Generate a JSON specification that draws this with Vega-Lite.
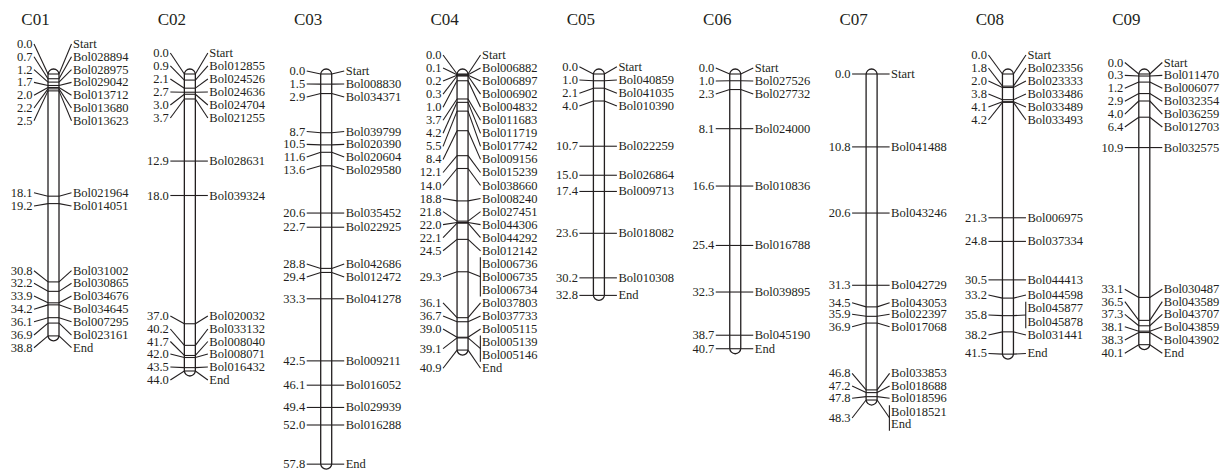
{
  "$schema": "https://vega.github.io/schema/vega-lite/v6.json",
  "width": 1226,
  "height": 474,
  "autosize": {"type": "none"},
  "padding": 0,
  "background": "white",
  "config": {"view": {"stroke": null}},
  "datasets": {
    "chroms": [
      {"c": 0, "t": "C01", "s": 0, "len": 38.8},
      {"c": 1, "t": "C02", "s": 0, "len": 44.0},
      {"c": 2, "t": "C03", "s": 0, "len": 57.8},
      {"c": 3, "t": "C04", "s": 0, "len": 40.9},
      {"c": 4, "t": "C05", "s": 0, "len": 32.8},
      {"c": 5, "t": "C06", "s": 0, "len": 40.7},
      {"c": 6, "t": "C07", "s": 0, "len": 48.3},
      {"c": 7, "t": "C08", "s": 0, "len": 41.5},
      {"c": 8, "t": "C09", "s": 0, "len": 40.1}
    ],
    "markers": [
      {"c": 0, "p": 0.0, "ly": -4.44, "ny": -4.44, "name": "Start"},
      {"c": 0, "p": 0.7, "ly": -2.55, "ny": -2.55, "name": "Bol028894"},
      {"c": 0, "p": 1.2, "ly": -0.65, "ny": -0.65, "name": "Bol028975"},
      {"c": 0, "p": 1.7, "ly": 1.24, "ny": 1.24, "name": "Bol029042"},
      {"c": 0, "p": 2.0, "ly": 3.14, "ny": 3.14, "name": "Bol013712"},
      {"c": 0, "p": 2.2, "ly": 5.04, "ny": 5.04, "name": "Bol013680"},
      {"c": 0, "p": 2.5, "ly": 6.93, "ny": 6.93, "name": "Bol013623"},
      {"c": 0, "p": 18.1, "ly": 17.59, "ny": 17.59, "name": "Bol021964"},
      {"c": 0, "p": 19.2, "ly": 19.56, "ny": 19.56, "name": "Bol014051"},
      {"c": 0, "p": 30.8, "ly": 29.14, "ny": 29.14, "name": "Bol031002"},
      {"c": 0, "p": 32.2, "ly": 31.01, "ny": 31.01, "name": "Bol030865"},
      {"c": 0, "p": 33.9, "ly": 32.89, "ny": 32.89, "name": "Bol034676"},
      {"c": 0, "p": 34.2, "ly": 34.86, "ny": 34.86, "name": "Bol034645"},
      {"c": 0, "p": 36.1, "ly": 36.70, "ny": 36.70, "name": "Bol007295"},
      {"c": 0, "p": 36.9, "ly": 38.67, "ny": 38.67, "name": "Bol023161"},
      {"c": 0, "p": 38.8, "ly": 40.55, "ny": 40.55, "name": "End"},

      {"c": 1, "p": 0.0, "ly": -3.11, "ny": -3.11, "name": "Start"},
      {"c": 1, "p": 0.9, "ly": -1.19, "ny": -1.19, "name": "Bol012855"},
      {"c": 1, "p": 2.1, "ly": 0.74, "ny": 0.74, "name": "Bol024526"},
      {"c": 1, "p": 2.7, "ly": 2.67, "ny": 2.67, "name": "Bol024636"},
      {"c": 1, "p": 3.0, "ly": 4.59, "ny": 4.59, "name": "Bol024704"},
      {"c": 1, "p": 3.7, "ly": 6.52, "ny": 6.52, "name": "Bol021255"},
      {"c": 1, "p": 12.9, "ly": 12.9, "ny": 12.9, "name": "Bol028631"},
      {"c": 1, "p": 18.0, "ly": 18.0, "ny": 18.0, "name": "Bol039324"},
      {"c": 1, "p": 37.0, "ly": 35.85, "ny": 35.85, "name": "Bol020032"},
      {"c": 1, "p": 40.2, "ly": 37.78, "ny": 37.78, "name": "Bol033132"},
      {"c": 1, "p": 41.7, "ly": 39.63, "ny": 39.63, "name": "Bol008040"},
      {"c": 1, "p": 42.0, "ly": 41.48, "ny": 41.48, "name": "Bol008071"},
      {"c": 1, "p": 43.5, "ly": 43.41, "ny": 43.41, "name": "Bol016432"},
      {"c": 1, "p": 44.0, "ly": 45.33, "ny": 45.33, "name": "End"},

      {"c": 2, "p": 0.0, "ly": -0.44, "ny": -0.44, "name": "Start"},
      {"c": 2, "p": 1.5, "ly": 1.48, "ny": 1.48, "name": "Bol008830"},
      {"c": 2, "p": 2.9, "ly": 3.41, "ny": 3.41, "name": "Bol034371"},
      {"c": 2, "p": 8.7, "ly": 8.52, "ny": 8.52, "name": "Bol039799"},
      {"c": 2, "p": 10.5, "ly": 10.42, "ny": 10.42, "name": "Bol020390"},
      {"c": 2, "p": 11.6, "ly": 12.30, "ny": 12.30, "name": "Bol020604"},
      {"c": 2, "p": 13.6, "ly": 14.19, "ny": 14.19, "name": "Bol029580"},
      {"c": 2, "p": 20.6, "ly": 20.6, "ny": 20.6, "name": "Bol035452"},
      {"c": 2, "p": 22.7, "ly": 22.7, "ny": 22.7, "name": "Bol022925"},
      {"c": 2, "p": 28.8, "ly": 28.15, "ny": 28.15, "name": "Bol042686"},
      {"c": 2, "p": 29.4, "ly": 30.07, "ny": 30.07, "name": "Bol012472"},
      {"c": 2, "p": 33.3, "ly": 33.3, "ny": 33.3, "name": "Bol041278"},
      {"c": 2, "p": 42.5, "ly": 42.5, "ny": 42.5, "name": "Bol009211"},
      {"c": 2, "p": 46.1, "ly": 46.1, "ny": 46.1, "name": "Bol016052"},
      {"c": 2, "p": 49.4, "ly": 49.4, "ny": 49.4, "name": "Bol029939"},
      {"c": 2, "p": 52.0, "ly": 52.0, "ny": 52.0, "name": "Bol016288"},
      {"c": 2, "p": 57.8, "ly": 57.8, "ny": 57.8, "name": "End"},

      {"c": 3, "p": 0.0, "ly": -2.81, "ny": -2.81, "name": "Start"},
      {"c": 3, "p": 0.1, "ly": -0.88, "ny": -0.88, "name": "Bol006882"},
      {"c": 3, "p": 0.2, "ly": 1.05, "ny": 1.05, "name": "Bol006897"},
      {"c": 3, "p": 0.3, "ly": 2.99, "ny": 2.99, "name": "Bol006902"},
      {"c": 3, "p": 1.0, "ly": 4.92, "ny": 4.92, "name": "Bol004832"},
      {"c": 3, "p": 3.7, "ly": 6.85, "ny": 6.85, "name": "Bol011683"},
      {"c": 3, "p": 4.2, "ly": 8.79, "ny": 8.79, "name": "Bol011719"},
      {"c": 3, "p": 5.5, "ly": 10.72, "ny": 10.72, "name": "Bol017742"},
      {"c": 3, "p": 8.4, "ly": 12.65, "ny": 12.65, "name": "Bol009156"},
      {"c": 3, "p": 12.1, "ly": 14.59, "ny": 14.59, "name": "Bol015239"},
      {"c": 3, "p": 14.0, "ly": 16.52, "ny": 16.52, "name": "Bol038660"},
      {"c": 3, "p": 18.8, "ly": 18.45, "ny": 18.45, "name": "Bol008240"},
      {"c": 3, "p": 21.8, "ly": 20.39, "ny": 20.39, "name": "Bol027451"},
      {"c": 3, "p": 22.0, "ly": 22.32, "ny": 22.32, "name": "Bol044306"},
      {"c": 3, "p": 22.1, "ly": 24.25, "ny": 24.25, "name": "Bol044292"},
      {"c": 3, "p": 24.5, "ly": 26.19, "ny": 26.19, "name": "Bol012142"},
      {"c": 3, "p": 29.3, "ly": 30.05, "ny": 28.12, "name": "Bol006736", "g": "c4a"},
      {"c": 3, "p": 29.3, "ly": 30.05, "ny": 30.05, "name": "Bol006735", "g": "c4a"},
      {"c": 3, "p": 29.3, "ly": 30.05, "ny": 31.99, "name": "Bol006734", "g": "c4a"},
      {"c": 3, "p": 36.1, "ly": 33.92, "ny": 33.92, "name": "Bol037803"},
      {"c": 3, "p": 36.7, "ly": 35.85, "ny": 35.85, "name": "Bol037733"},
      {"c": 3, "p": 39.0, "ly": 37.79, "ny": 37.79, "name": "Bol005115"},
      {"c": 3, "p": 39.1, "ly": 40.69, "ny": 39.72, "name": "Bol005139", "g": "c4b"},
      {"c": 3, "p": 39.1, "ly": 40.69, "ny": 41.65, "name": "Bol005146", "g": "c4b"},
      {"c": 3, "p": 40.9, "ly": 43.59, "ny": 43.59, "name": "End"},

      {"c": 4, "p": 0.0, "ly": -1.08, "ny": -1.08, "name": "Start"},
      {"c": 4, "p": 1.0, "ly": 0.89, "ny": 0.89, "name": "Bol040859"},
      {"c": 4, "p": 2.1, "ly": 2.86, "ny": 2.86, "name": "Bol041035"},
      {"c": 4, "p": 4.0, "ly": 4.74, "ny": 4.74, "name": "Bol010390"},
      {"c": 4, "p": 10.7, "ly": 10.7, "ny": 10.7, "name": "Bol022259"},
      {"c": 4, "p": 15.0, "ly": 15.0, "ny": 15.0, "name": "Bol026864"},
      {"c": 4, "p": 17.4, "ly": 17.4, "ny": 17.4, "name": "Bol009713"},
      {"c": 4, "p": 23.6, "ly": 23.6, "ny": 23.6, "name": "Bol018082"},
      {"c": 4, "p": 30.2, "ly": 30.2, "ny": 30.2, "name": "Bol010308"},
      {"c": 4, "p": 32.8, "ly": 32.8, "ny": 32.8, "name": "End"},

      {"c": 5, "p": 0.0, "ly": -0.89, "ny": -0.89, "name": "Start"},
      {"c": 5, "p": 1.0, "ly": 1.04, "ny": 1.04, "name": "Bol027526"},
      {"c": 5, "p": 2.3, "ly": 2.96, "ny": 2.96, "name": "Bol027732"},
      {"c": 5, "p": 8.1, "ly": 8.1, "ny": 8.1, "name": "Bol024000"},
      {"c": 5, "p": 16.6, "ly": 16.6, "ny": 16.6, "name": "Bol010836"},
      {"c": 5, "p": 25.4, "ly": 25.4, "ny": 25.4, "name": "Bol016788"},
      {"c": 5, "p": 32.3, "ly": 32.3, "ny": 32.3, "name": "Bol039895"},
      {"c": 5, "p": 38.7, "ly": 38.7, "ny": 38.7, "name": "Bol045190"},
      {"c": 5, "p": 40.7, "ly": 40.7, "ny": 40.7, "name": "End"},

      {"c": 6, "p": 0.0, "ly": 0.0, "ny": 0.0, "name": "Start"},
      {"c": 6, "p": 10.8, "ly": 10.8, "ny": 10.8, "name": "Bol041488"},
      {"c": 6, "p": 20.6, "ly": 20.6, "ny": 20.6, "name": "Bol043246"},
      {"c": 6, "p": 31.3, "ly": 31.3, "ny": 31.3, "name": "Bol042729"},
      {"c": 6, "p": 34.5, "ly": 33.88, "ny": 33.88, "name": "Bol043053"},
      {"c": 6, "p": 35.9, "ly": 35.6, "ny": 35.6, "name": "Bol022397"},
      {"c": 6, "p": 36.9, "ly": 37.44, "ny": 37.44, "name": "Bol017068"},
      {"c": 6, "p": 46.8, "ly": 44.34, "ny": 44.34, "name": "Bol033853"},
      {"c": 6, "p": 47.2, "ly": 46.22, "ny": 46.22, "name": "Bol018688"},
      {"c": 6, "p": 47.8, "ly": 48.04, "ny": 48.04, "name": "Bol018596"},
      {"c": 6, "p": 48.3, "ly": 50.96, "ny": 50.03, "name": "Bol018521", "g": "c7"},
      {"c": 6, "p": 48.3, "ly": 50.96, "ny": 51.90, "name": "End", "g": "c7"},

      {"c": 7, "p": 0.0, "ly": -2.81, "ny": -2.81, "name": "Start"},
      {"c": 7, "p": 1.8, "ly": -0.89, "ny": -0.89, "name": "Bol023356"},
      {"c": 7, "p": 2.0, "ly": 1.04, "ny": 1.04, "name": "Bol023333"},
      {"c": 7, "p": 3.8, "ly": 2.96, "ny": 2.96, "name": "Bol033486"},
      {"c": 7, "p": 4.1, "ly": 4.89, "ny": 4.89, "name": "Bol033489"},
      {"c": 7, "p": 4.2, "ly": 6.81, "ny": 6.81, "name": "Bol033493"},
      {"c": 7, "p": 21.3, "ly": 21.3, "ny": 21.3, "name": "Bol006975"},
      {"c": 7, "p": 24.8, "ly": 24.8, "ny": 24.8, "name": "Bol037334"},
      {"c": 7, "p": 30.5, "ly": 30.5, "ny": 30.5, "name": "Bol044413"},
      {"c": 7, "p": 33.2, "ly": 32.74, "ny": 32.74, "name": "Bol044598"},
      {"c": 7, "p": 35.8, "ly": 35.70, "ny": 34.71, "name": "Bol045877", "g": "c8"},
      {"c": 7, "p": 35.8, "ly": 35.70, "ny": 36.70, "name": "Bol045878", "g": "c8"},
      {"c": 7, "p": 38.2, "ly": 38.67, "ny": 38.67, "name": "Bol031441"},
      {"c": 7, "p": 41.5, "ly": 41.4, "ny": 41.4, "name": "End"},

      {"c": 8, "p": 0.0, "ly": -1.70, "ny": -1.70, "name": "Start"},
      {"c": 8, "p": 0.3, "ly": 0.21, "ny": 0.21, "name": "Bol011470"},
      {"c": 8, "p": 1.2, "ly": 2.12, "ny": 2.12, "name": "Bol006077"},
      {"c": 8, "p": 2.9, "ly": 4.03, "ny": 4.03, "name": "Bol032354"},
      {"c": 8, "p": 4.0, "ly": 5.94, "ny": 5.94, "name": "Bol036259"},
      {"c": 8, "p": 6.4, "ly": 7.85, "ny": 7.85, "name": "Bol012703"},
      {"c": 8, "p": 10.9, "ly": 10.9, "ny": 10.9, "name": "Bol032575"},
      {"c": 8, "p": 33.1, "ly": 31.90, "ny": 31.90, "name": "Bol030487"},
      {"c": 8, "p": 36.5, "ly": 33.73, "ny": 33.73, "name": "Bol043589"},
      {"c": 8, "p": 37.3, "ly": 35.6, "ny": 35.6, "name": "Bol043707"},
      {"c": 8, "p": 38.1, "ly": 37.44, "ny": 37.44, "name": "Bol043859"},
      {"c": 8, "p": 38.3, "ly": 39.41, "ny": 39.41, "name": "Bol043902"},
      {"c": 8, "p": 40.1, "ly": 41.38, "ny": 41.38, "name": "End"}
    ]
  },
  "encoding": {
    "x": {"field": "c", "type": "quantitative", "scale": {"domain": [-0.3924, 8.5992], "nice": false, "zero": false}, "axis": null}
  },
  "layer": [
    {
      "data": {"name": "chroms"},
      "mark": {"type": "rect", "xOffset": -5.5, "x2Offset": 5.5, "yOffset": -5, "y2Offset": 5, "cornerRadius": 5.5, "fill": "white", "stroke": "#231f20", "strokeWidth": 1.3},
      "encoding": {
        "x2": {"field": "c"},
        "y": {"field": "s", "type": "quantitative", "scale": {"domain": [-10.963, 59.259], "nice": false, "zero": false, "reverse": true}, "axis": null},
        "y2": {"field": "len"}
      }
    },
    {
      "data": {"name": "markers"},
      "transform": [{"aggregate": [{"op": "count", "as": "n"}], "groupby": ["c", "p", "ly"]}],
      "mark": {"type": "rule", "xOffset": -5.5, "x2Offset": 5.5, "stroke": "#231f20", "strokeWidth": 1.1},
      "encoding": {
        "x2": {"field": "c"},
        "y": {"field": "p", "type": "quantitative", "scale": {"domain": [-10.963, 59.259], "nice": false, "zero": false, "reverse": true}, "axis": null}
      }
    },
    {
      "data": {"name": "markers"},
      "transform": [{"aggregate": [{"op": "count", "as": "n"}], "groupby": ["c", "p", "ly"]}],
      "mark": {"type": "rule", "xOffset": -19.5, "x2Offset": -5.5, "stroke": "#231f20", "strokeWidth": 1.1},
      "encoding": {
        "x2": {"field": "c"},
        "y": {"field": "ly", "type": "quantitative", "scale": {"domain": [-10.963, 59.259], "nice": false, "zero": false, "reverse": true}, "axis": null},
        "y2": {"field": "p"}
      }
    },
    {
      "data": {"name": "markers"},
      "transform": [{"aggregate": [{"op": "count", "as": "n"}], "groupby": ["c", "p", "ly"]}],
      "mark": {"type": "rule", "xOffset": 5.5, "x2Offset": 18, "stroke": "#231f20", "strokeWidth": 1.1},
      "encoding": {
        "x2": {"field": "c"},
        "y": {"field": "p", "type": "quantitative", "scale": {"domain": [-10.963, 59.259], "nice": false, "zero": false, "reverse": true}, "axis": null},
        "y2": {"field": "ly"}
      }
    },
    {
      "data": {"name": "markers"},
      "transform": [{"aggregate": [{"op": "count", "as": "n"}], "groupby": ["c", "p", "ly"]}],
      "mark": {"type": "text", "xOffset": -21, "align": "right", "baseline": "middle", "font": "Liberation Serif", "fontSize": 12.5, "fill": "#231f20"},
      "encoding": {
        "y": {"field": "ly", "type": "quantitative", "scale": {"domain": [-10.963, 59.259], "nice": false, "zero": false, "reverse": true}, "axis": null},
        "text": {"field": "p", "type": "quantitative", "format": ".1f"}
      }
    },
    {
      "data": {"name": "markers"},
      "mark": {"type": "text", "xOffset": 19.5, "align": "left", "baseline": "middle", "font": "Liberation Serif", "fontSize": 12.5, "fill": "#231f20"},
      "encoding": {
        "y": {"field": "ny", "type": "quantitative", "scale": {"domain": [-10.963, 59.259], "nice": false, "zero": false, "reverse": true}, "axis": null},
        "text": {"field": "name", "type": "nominal"}
      }
    },
    {
      "data": {"name": "markers"},
      "transform": [{"filter": "isValid(datum.g)"}],
      "mark": {"type": "rule", "xOffset": 17.8, "yOffset": -6.5, "y2Offset": 6.5, "stroke": "#231f20", "strokeWidth": 1.1},
      "encoding": {
        "y": {"aggregate": "min", "field": "ny", "type": "quantitative", "scale": {"domain": [-10.963, 59.259], "nice": false, "zero": false, "reverse": true}, "axis": null},
        "y2": {"aggregate": "max", "field": "ny"},
        "detail": {"field": "g", "type": "nominal"}
      }
    },
    {
      "data": {"name": "chroms"},
      "mark": {"type": "text", "xOffset": -18, "align": "center", "baseline": "middle", "font": "Liberation Serif", "fontSize": 17, "fill": "#231f20"},
      "encoding": {
        "y": {"datum": -8, "type": "quantitative", "scale": {"domain": [-10.963, 59.259], "nice": false, "zero": false, "reverse": true}, "axis": null},
        "text": {"field": "t", "type": "nominal"}
      }
    }
  ]
}
